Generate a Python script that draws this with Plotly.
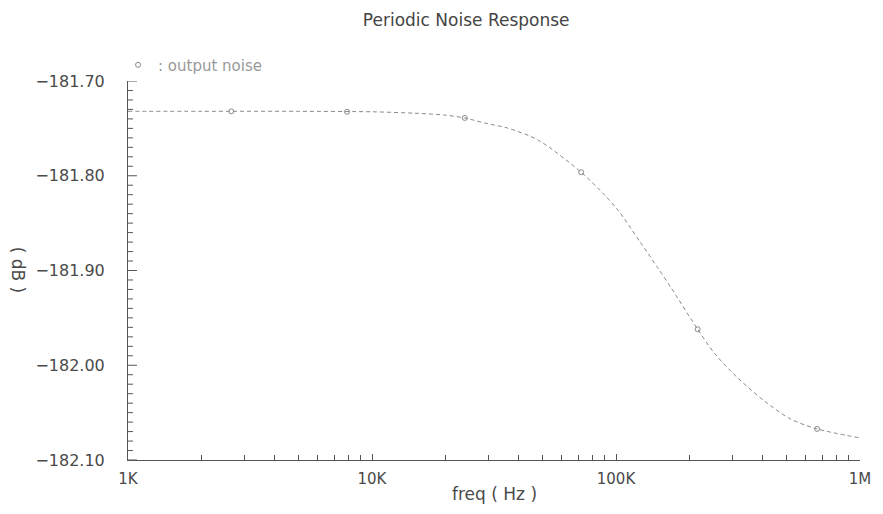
import plotly.graph_objects as go

# Output noise vs. frequency (sampled along the curve)
freq_hz = [1e3, 2e3, 5e3, 1e4, 1.5e4, 2e4, 2.4e4, 2.9e4, 3.6e4, 4.8e4, 7.2e4,
           9.0e4, 1.02e5, 1.26e5, 1.48e5, 1.68e5, 2.16e5, 2.54e5,
           3.15e5, 4.05e5, 5.18e5, 6.67e5, 1e6]
noise_db = [-181.732, -181.732, -181.732, -181.7325, -181.734, -181.736,
            -181.739, -181.7444, -181.7497, -181.7624, -181.7963,
            -181.8206, -181.8365, -181.8704, -181.8968, -181.9180,
            -181.9620, -181.9878, -182.0132, -182.0376,
            -182.0566, -182.0672, -182.0767]

# Marker positions along the trace
marker_freq = [2.65e3, 7.9e3, 2.4e4, 7.2e4, 2.16e5, 6.67e5]
marker_db = [-181.732, -181.7325, -181.739, -181.7963, -181.9620, -182.0672]

x_tickvals = [1e3, 1e4, 1e5, 1e6]
x_ticktext = ["1K", "10K", "100K", "1M"]
y_tickvals = [-181.70, -181.80, -181.90, -182.00, -182.10]
y_range = [-182.10, -181.70]
y_minor_step = 0.01

FONT = "DejaVu Sans"
TXT = "#4a4a4a"
AX = "#555555"
PLOT_W = 883 - 128 - 19  # plot-area width in px, for tick lengths

x_minor = [m * d for d in (1e3, 1e4, 1e5) for m in range(2, 10)]

fig = go.Figure()
fig.add_trace(go.Scatter(
    x=freq_hz, y=noise_db, mode="lines", showlegend=False,
    line=dict(color="#8a8a8a", width=1, dash="4px,3px", shape="spline", smoothing=0.8),
    hoverinfo="skip",
))
fig.add_trace(go.Scatter(
    x=marker_freq, y=marker_db, mode="markers", name=": output noise",
    marker=dict(symbol="circle-open", size=5, color="#8a8a8a",
                line=dict(width=1, color="#8a8a8a")),
))

# Inward-pointing y-axis ticks: long ones at labelled values, short ones every 0.01 dB
n_steps = int(round((y_range[1] - y_range[0]) / y_minor_step))
y_all_ticks = [round(y_range[0] + i * y_minor_step, 2) for i in range(n_steps + 1)]
for v in y_all_ticks:
    is_major = any(abs(v - t) < 1e-9 for t in y_tickvals)
    fig.add_shape(type="line", xref="paper", yref="y", layer="above",
                  x0=0, x1=(9 if is_major else 5) / PLOT_W, y0=v, y1=v,
                  line=dict(color=AX, width=1))

fig.update_layout(
    width=883, height=514,
    margin=dict(l=128, r=19, t=81, b=54),
    plot_bgcolor="white",
    font=dict(family=FONT, size=16, color=TXT),
    title=dict(text="Periodic Noise Response", x=0.528, xanchor="center",
               y=0.961, yanchor="middle",
               font=dict(family=FONT, size=17, color="#444444")),
    legend=dict(x=-0.0136, y=1.042, xanchor="left", yanchor="middle",
                bgcolor="rgba(0,0,0,0)", font=dict(family=FONT, size=15, color="#999999"),
                itemwidth=30),
    showlegend=True,
    xaxis=dict(
        type="log", range=[3, 6],
        tickvals=x_tickvals, ticktext=x_ticktext,
        ticks="inside", ticklen=6, tickcolor=AX,
        showline=True, linecolor=AX, showgrid=False, zeroline=False,
        ticklabelstandoff=5,
        tickfont=dict(family=FONT, size=15, color=TXT),
        minor=dict(ticks="inside", ticklen=5, tickcolor=AX, tickvals=x_minor),
    ),
    yaxis=dict(
        range=y_range, tickvals=y_tickvals, tickformat=".2f",
        ticks="", showline=True, linecolor=AX, showgrid=False, zeroline=False,
        ticklabelstandoff=19,
    ),
)

fig.add_annotation(text="freq ( Hz )", xref="paper", yref="paper",
                   x=0.5, y=-0.0897, xanchor="center", yanchor="middle",
                   showarrow=False, font=dict(family=FONT, size=17, color=TXT))
fig.add_annotation(text="( dB )", xref="paper", yref="paper",
                   x=-0.151, y=0.501, xanchor="center", yanchor="middle",
                   textangle=90, showarrow=False,
                   font=dict(family=FONT, size=17, color=TXT))

fig.write_html("out.html")
